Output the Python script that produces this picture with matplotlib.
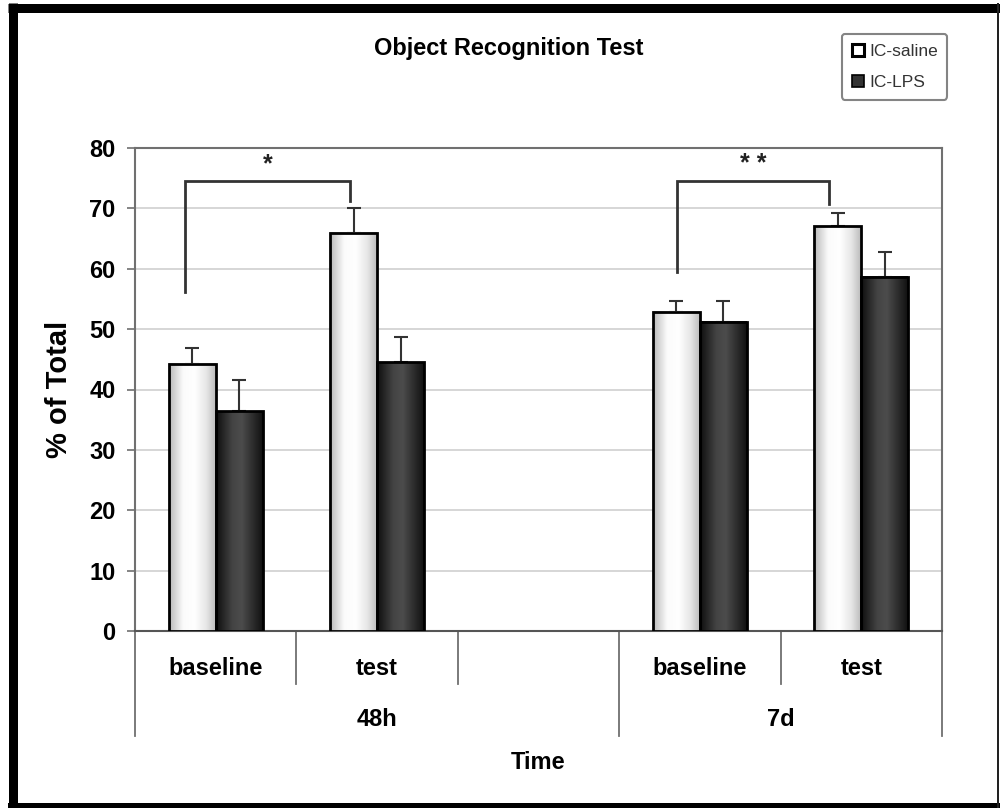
import numpy as np
import matplotlib
matplotlib.use("Agg")
import matplotlib.pyplot as plt
from matplotlib.colors import LinearSegmentedColormap
from matplotlib.lines import Line2D
import matplotlib.transforms as mtransforms

plt.rcParams['font.family'] = ['Liberation Sans', 'DejaVu Sans']

# ---------------- data ----------------
categories = ['baseline', 'test', '', 'baseline', 'test']
groups = ['48h', '7d']
group_spans = [(-0.5, 2.5), (2.5, 4.5)]
series_names = ['IC-saline', 'IC-LPS']
saline = [44.3, 66.0, np.nan, 52.9, 67.0]
saline_err = [2.5, 4.1, np.nan, 1.7, 2.3]
lps = [36.4, 44.5, np.nan, 51.2, 58.7]
lps_err = [5.2, 4.2, np.nan, 3.4, 4.1]
# significance brackets: (left x, right x, left y, top y, right y, label)
brackets = [(-0.19, 0.83, 56.2, 74.5, 71.2, '*'),
            (2.86, 3.80, 59.4, 74.5, 70.8, '* *')]

# ---------------- figure ----------------
W, H = 1000, 808
fig = plt.figure(figsize=(W / 100, H / 100), dpi=100)
ax = fig.add_axes([135 / W, 1 - 631 / H, (942 - 135) / W, (631 - 148) / H])

x = np.arange(len(categories))
bw = 0.29

cm_sal = LinearSegmentedColormap.from_list(
    'sal', [(0, '#b8b8b8'), (0.3, '#fbfbfb'), (0.55, '#ffffff'), (0.8, '#e6e6e6'), (1, '#bcbcbc')])
cm_lps = LinearSegmentedColormap.from_list(
    'lps', [(0, '#0e0e0e'), (0.35, '#444444'), (0.55, '#4c4c4c'), (1, '#111111')])
grad = np.linspace(0, 1, 256)[None, :]

def draw_bars(xs, vals, errs, cmap):
    bars = ax.bar(xs, vals, width=bw, facecolor='none', edgecolor='#000000',
                  linewidth=2.0, zorder=4)
    for b, v in zip(bars, vals):
        if np.isnan(v):
            continue
        x0 = b.get_x()
        ax.imshow(grad, extent=[x0, x0 + b.get_width(), 0, v], aspect='auto',
                  cmap=cmap, interpolation='bilinear', zorder=3)
    ax.errorbar(xs, vals, yerr=[np.zeros(len(errs)), errs], fmt='none',
                ecolor='#333333', elinewidth=1.5, capsize=5, capthick=1.5, zorder=2)
    return bars

draw_bars(x - bw / 2, saline, saline_err, cm_sal)
draw_bars(x + bw / 2, lps, lps_err, cm_lps)

ax.set_xlim(-0.5, 4.5)
ax.set_ylim(0, 80)
ax.set_yticks(np.arange(0, 81, 10))
ax.tick_params(axis='y', direction='out', length=6, width=1.2, color='#707070',
               labelsize=17, pad=8)
for lab in ax.get_yticklabels():
    lab.set_fontweight('bold')
ax.set_xticks([])
ax.grid(axis='y', color='#cfcfcf', linewidth=1.2, zorder=0)
ax.set_axisbelow(True)
for s in ax.spines.values():
    s.set_color('#707070')
    s.set_linewidth(1.5)
ax.spines['bottom'].set_color('#555555')

# brackets
for (xl, xr, yl, yt, yr, lab) in brackets:
    ax.plot([xl, xl, xr, xr], [yl, yt, yt, yr], color='#333333', lw=2.0, zorder=5,
            solid_joinstyle='miter')
    ax.text((xl + xr) / 2, yt + 0.8, lab, ha='center', va='bottom',
            fontsize=18, fontweight='bold', color='#222222')

# multi-level category axis
trans = mtransforms.blended_transform_factory(ax.transData, ax.transAxes)
short_len, long_len = 0.110, 0.217
group_edges = sorted(set([e for sp in group_spans for e in sp]))
bounds = np.arange(-0.5, len(categories) + 0.5, 1.0)
for bnd in bounds:
    ln = long_len if any(np.isclose(bnd, g) for g in group_edges) else short_len
    ax.plot([bnd, bnd], [0, -ln], transform=trans, color='#707070', lw=1.3,
            clip_on=False)
for xi, c in zip(x, categories):
    ax.text(xi, -0.077, c, transform=trans, ha='center', va='center',
            fontsize=17, fontweight='bold')
for g, (a, b) in zip(groups, group_spans):
    ax.text((a + b) / 2, -0.184, g, transform=trans, ha='center', va='center',
            fontsize=17, fontweight='bold')
ax.text(0.5, -0.273, 'Time', transform=ax.transAxes, ha='center', va='center',
        fontsize=17, fontweight='bold')

ax.set_ylabel('% of Total', fontsize=21, fontweight='bold', labelpad=12)

fig.text(509 / W, 1 - 48 / H, 'Object Recognition Test', ha='center', va='center',
         fontsize=17, fontweight='bold')

# legend
handles = [Line2D([], [], marker='s', linestyle='none', markersize=9,
                  markerfacecolor='white', markeredgecolor='black', markeredgewidth=2.2),
           Line2D([], [], marker='s', linestyle='none', markersize=8,
                  markerfacecolor='#333333', markeredgecolor='black', markeredgewidth=1.2)]
leg = fig.legend(handles, series_names, loc='upper left',
                 bbox_to_anchor=(842 / W, 1 - 34 / H), fontsize=12.5,
                 frameon=True, fancybox=True, edgecolor='#666666',
                 handlelength=0.8, handletextpad=0.2, borderpad=0.55,
                 labelspacing=0.95, borderaxespad=0)
leg.get_frame().set_linewidth(1.5)
for t in leg.get_texts():
    t.set_color('#333333')

# outer frame
def fline(xs, ys, lw_px, color='black'):
    fig.add_artist(Line2D(np.array(xs) / W, 1 - np.array(ys) / H, transform=fig.transFigure,
                          color=color, lw=lw_px * 0.72, solid_capstyle='butt'))

fline([12.5, 12.5], [3, H], 9)
fline([8, W], [7.5, 7.5], 9)
fline([8, W], [805.5, 805.5], 6)
fline([998, 998], [3, H], 2, color='#222222')

fig.savefig('out.png', dpi=100)
